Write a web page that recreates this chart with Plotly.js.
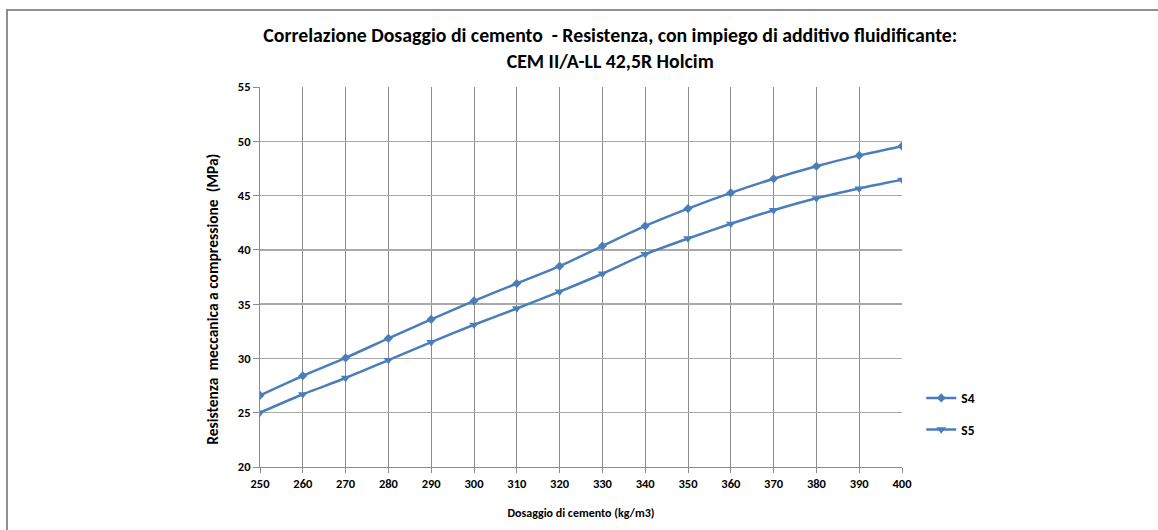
<!DOCTYPE html>
<html>
<head>
<meta charset="utf-8">
<script src="https://cdn.plot.ly/plotly-3.0.1.min.js"></script>
<style>
  html, body { margin: 0; padding: 0; background: #fff; }
  #frame { position: absolute; left: 6px; top: 9px; width: 1152px; height: 521px;
           border-left: 2px solid #8e8e8e; border-top: 2px solid #8e8e8e; box-sizing: border-box; }
  #chart { position: absolute; left: 0; top: 0; width: 1158px; height: 530px; }
</style>
</head>
<body>
<div id="frame"></div>
<div id="chart"></div>
<script>
const dosaggio = [250, 260, 270, 280, 290, 300, 310, 320, 330, 340, 350, 360, 370, 380, 390, 400];
const s4 = [26.6, 28.4, 30.05, 31.85, 33.6, 35.3, 36.9, 38.5, 40.35, 42.2, 43.8, 45.25, 46.55, 47.7, 48.7, 49.55];
const s5 = [25.0, 26.7, 28.2, 29.85, 31.5, 33.1, 34.6, 36.15, 37.8, 39.6, 41.05, 42.4, 43.65, 44.75, 45.65, 46.45];
const seriesNames = ['S4', 'S5'];
const xTicks = dosaggio;
const yTicks = [20, 25, 30, 35, 40, 45, 50, 55];

const FONT = 'Carlito, "Liberation Sans Narrow", "Liberation Sans", Arial, sans-serif';
const BLUE = '#4a7ebb';

const traces = [
  {
    x: dosaggio, y: s4, name: '<b>' + seriesNames[0] + '</b>', type: 'scatter', mode: 'lines+markers',
    line: { color: BLUE, width: 2.5, shape: 'spline', smoothing: 0.6 },
    marker: { symbol: 'diamond', size: 7, color: BLUE },
    legendgroup: 'a'
  },
  {
    x: dosaggio, y: s5, name: '<b>' + seriesNames[1] + '</b>', type: 'scatter', mode: 'lines+markers',
    line: { color: BLUE, width: 2.5, shape: 'spline', smoothing: 0.6 },
    marker: { symbol: 'triangle-down', size: 8.5, color: BLUE },
    legendgroup: 'b'
  }
];

const layout = {
  width: 1158, height: 530,
  paper_bgcolor: 'rgba(0,0,0,0)', plot_bgcolor: '#fff',
  margin: { l: 260, r: 256, t: 87, b: 63 },
  font: { family: FONT, color: '#000', size: 12 },
  title: {
    text: '<b>Correlazione Dosaggio di cemento  - Resistenza, con impiego di additivo fluidificante:<br>CEM II/A-LL 42,5R Holcim</b>',
    font: { family: FONT, size: 19.8, color: '#000' },
    x: 0.527, xref: 'container', xanchor: 'center',
    y: 0.92, yref: 'container', yanchor: 'top'
  },
  xaxis: {
    range: [250, 400], tickvals: xTicks, ticktext: xTicks.map(v => '<b>' + v + '</b>'),
    showgrid: true, gridcolor: '#8c8c8c', gridwidth: 1,
    showline: true, linecolor: '#8c8c8c', linewidth: 1,
    ticks: 'outside', ticklen: 5, tickcolor: '#8c8c8c',
    tickfont: { family: FONT, size: 12.5 }, zeroline: false,
    title: { text: '<b>Dosaggio di cemento (kg/m3)</b>', font: { family: FONT, size: 12 }, standoff: 18 }
  },
  yaxis: {
    range: [20, 55], tickvals: yTicks, ticktext: yTicks.map(v => '<b>' + v + '</b>'),
    showgrid: true, gridcolor: '#aaaaaa', gridwidth: 1.5,
    showline: true, linecolor: '#8c8c8c', linewidth: 1,
    ticks: 'outside', ticklen: 6, tickcolor: '#8c8c8c',
    tickfont: { family: FONT, size: 12.5 }, zeroline: false
  },
  annotations: [{
    text: '<b>Resistenza  meccanica a compressione  (MPa)</b>',
    font: { family: FONT, size: 15.5, color: '#000' },
    textangle: -90, showarrow: false,
    xref: 'paper', yref: 'paper', x: -0.0732, y: 0.44,
    xanchor: 'center', yanchor: 'middle'
  }],
  showlegend: true,
  legend: {
    x: 1.03, xanchor: 'left', y: 0.222, yanchor: 'top',
    font: { family: FONT, size: 13.5 }, tracegroupgap: 11,
    bgcolor: 'rgba(0,0,0,0)', itemwidth: 30
  }
};

Plotly.newPlot('chart', traces, layout, { displayModeBar: false, staticPlot: true });
</script>
</body>
</html>
